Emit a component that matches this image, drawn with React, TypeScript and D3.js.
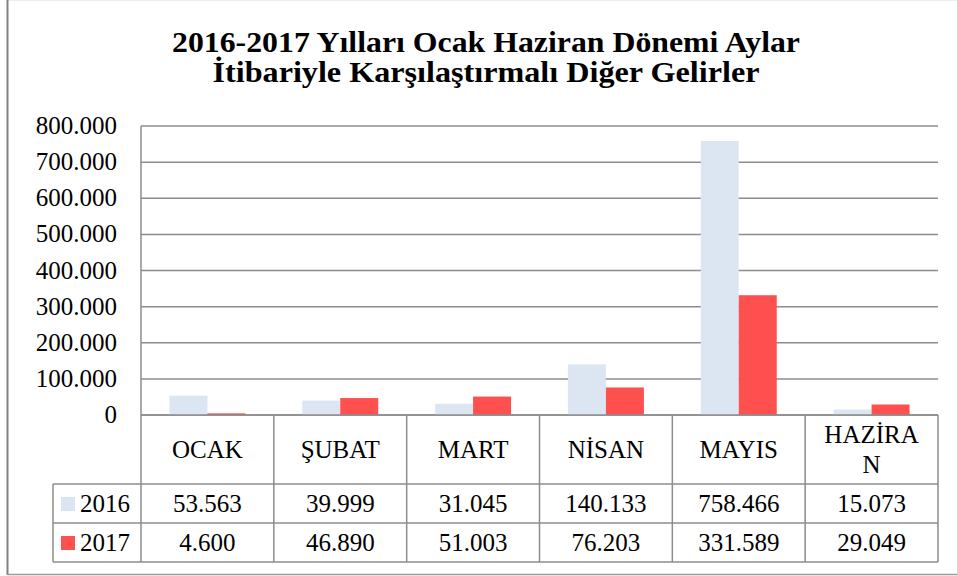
import React from "react";
import * as d3 from "d3";

const categories = ["OCAK", "ŞUBAT", "MART", "NİSAN", "MAYIS", "HAZİRAN"];
const categoryLines = [["OCAK"], ["ŞUBAT"], ["MART"], ["NİSAN"], ["MAYIS"], ["HAZİRA", "N"]];
const seriesNames = ["2016", "2017"];
const values2016 = [53563, 39999, 31045, 140133, 758466, 15073];
const values2017 = [4600, 46890, 51003, 76203, 331589, 29049];
const labels2016 = ["53.563", "39.999", "31.045", "140.133", "758.466", "15.073"];
const labels2017 = ["4.600", "46.890", "51.003", "76.203", "331.589", "29.049"];
const yTicks = [0, 100000, 200000, 300000, 400000, 500000, 600000, 700000, 800000];
const colors = ["#DCE6F2", "#FF5050"];
const titleLines = ["2016-2017 Yılları Ocak Haziran Dönemi Aylar", "İtibariyle Karşılaştırmalı Diğer Gelirler"];
const titleWidths = [628, 547];

const W = 957;
const H = 576;
const plotLeft = 141;
const plotRight = 938;
const plotTop = 126;
const plotBottom = 415;
const legendLeft = 53;
const rowLines = [484, 523, 562];
const font = "Liberation Serif";
const gridColor = "#8c8c8c";

export default function App() {
  const x = d3.scaleBand<string>().domain(categories).range([plotLeft, plotRight]).padding(0);
  const y = d3.scaleLinear().domain([0, 800000]).range([plotBottom, plotTop]);
  const bw = x.bandwidth() * 0.286;
  const fmt = (v: number) => (v === 0 ? "0" : d3.format(",")(v).replace(/,/g, "."));
  const series = [values2016, values2017];
  const rowLabels = [labels2016, labels2017];
  const ts = { fontFamily: font };

  return (
    <svg width={W} height={H} style={{ position: "absolute", left: 0, top: 0, background: "#fff", fontFamily: font }}>
      <rect x={0} y={0} width={W} height={H} fill="#fff" />
      <line x1={8} x2={W} y1={0.5} y2={0.5} stroke="#ececec" strokeWidth={1} />
      <line x1={7.5} x2={7.5} y1={0} y2={575} stroke="#808080" strokeWidth={2} />
      <line x1={7.5} x2={W} y1={574.5} y2={574.5} stroke="#9a9a9a" strokeWidth={1.5} />
      {titleLines.map((t, i) => (
        <text
          key={i}
          x={486}
          y={52 + i * 30}
          textAnchor="middle"
          style={ts}
          fontWeight="bold"
          fontSize={30}
          fill="#000"
          textLength={titleWidths[i]}
          lengthAdjust="spacingAndGlyphs"
        >
          {t}
        </text>
      ))}
      {yTicks.map((t) => (
        <g key={t}>
          <line x1={plotLeft} x2={plotRight} y1={y(t)} y2={y(t)} stroke={gridColor} strokeWidth={1.5} />
          <text x={117} y={y(t) + 8} textAnchor="end" style={ts} fontSize={25} fill="#000">
            {fmt(t)}
          </text>
        </g>
      ))}
      <line x1={plotLeft} x2={plotLeft} y1={plotTop} y2={plotBottom} stroke={gridColor} strokeWidth={1.5} />
      {categories.map((c, i) => {
        const cx = (x(c) as number) + x.bandwidth() / 2;
        return (
          <g key={c}>
            {series.map((s, j) => (
              <rect
                key={j}
                x={cx - bw + j * bw}
                y={y(s[i])}
                width={bw}
                height={plotBottom - y(s[i])}
                fill={colors[j]}
              />
            ))}
          </g>
        );
      })}
      <line x1={plotLeft} x2={plotRight} y1={plotBottom} y2={plotBottom} stroke={gridColor} strokeWidth={1.5} />
      {rowLines.map((ry) => (
        <line key={ry} x1={legendLeft} x2={plotRight} y1={ry} y2={ry} stroke={gridColor} strokeWidth={1.5} />
      ))}
      <line x1={legendLeft} x2={legendLeft} y1={rowLines[0]} y2={rowLines[2]} stroke={gridColor} strokeWidth={1.5} />
      {categories.map((c) => (
        <line key={c} x1={x(c) as number} x2={x(c) as number} y1={plotBottom} y2={rowLines[2]} stroke={gridColor} strokeWidth={1.5} />
      ))}
      <line x1={plotRight} x2={plotRight} y1={plotBottom} y2={rowLines[2]} stroke={gridColor} strokeWidth={1.5} />
      {categories.map((c, i) => {
        const cx = (x(c) as number) + x.bandwidth() / 2;
        const lines = categoryLines[i];
        return (
          <g key={c}>
            {lines.map((l, k) => (
              <text
                key={k}
                x={cx}
                y={lines.length === 1 ? 458 : 443 + k * 30}
                textAnchor="middle"
                style={ts}
                fontSize={25}
                fill="#000"
              >
                {l}
              </text>
            ))}
            {rowLabels.map((r, j) => (
              <text key={j} x={cx} y={[512, 551][j]} textAnchor="middle" style={ts} fontSize={25} fill="#000">
                {r[i]}
              </text>
            ))}
          </g>
        );
      })}
      {seriesNames.map((n, j) => {
        const ry = rowLines[j];
        return (
          <g key={n}>
            <rect x={61} y={ry + 13} width={14} height={14} fill={colors[j]} />
            <text x={80} y={ry + 28} style={ts} fontSize={25} fill="#000">
              {n}
            </text>
          </g>
        );
      })}
    </svg>
  );
}
